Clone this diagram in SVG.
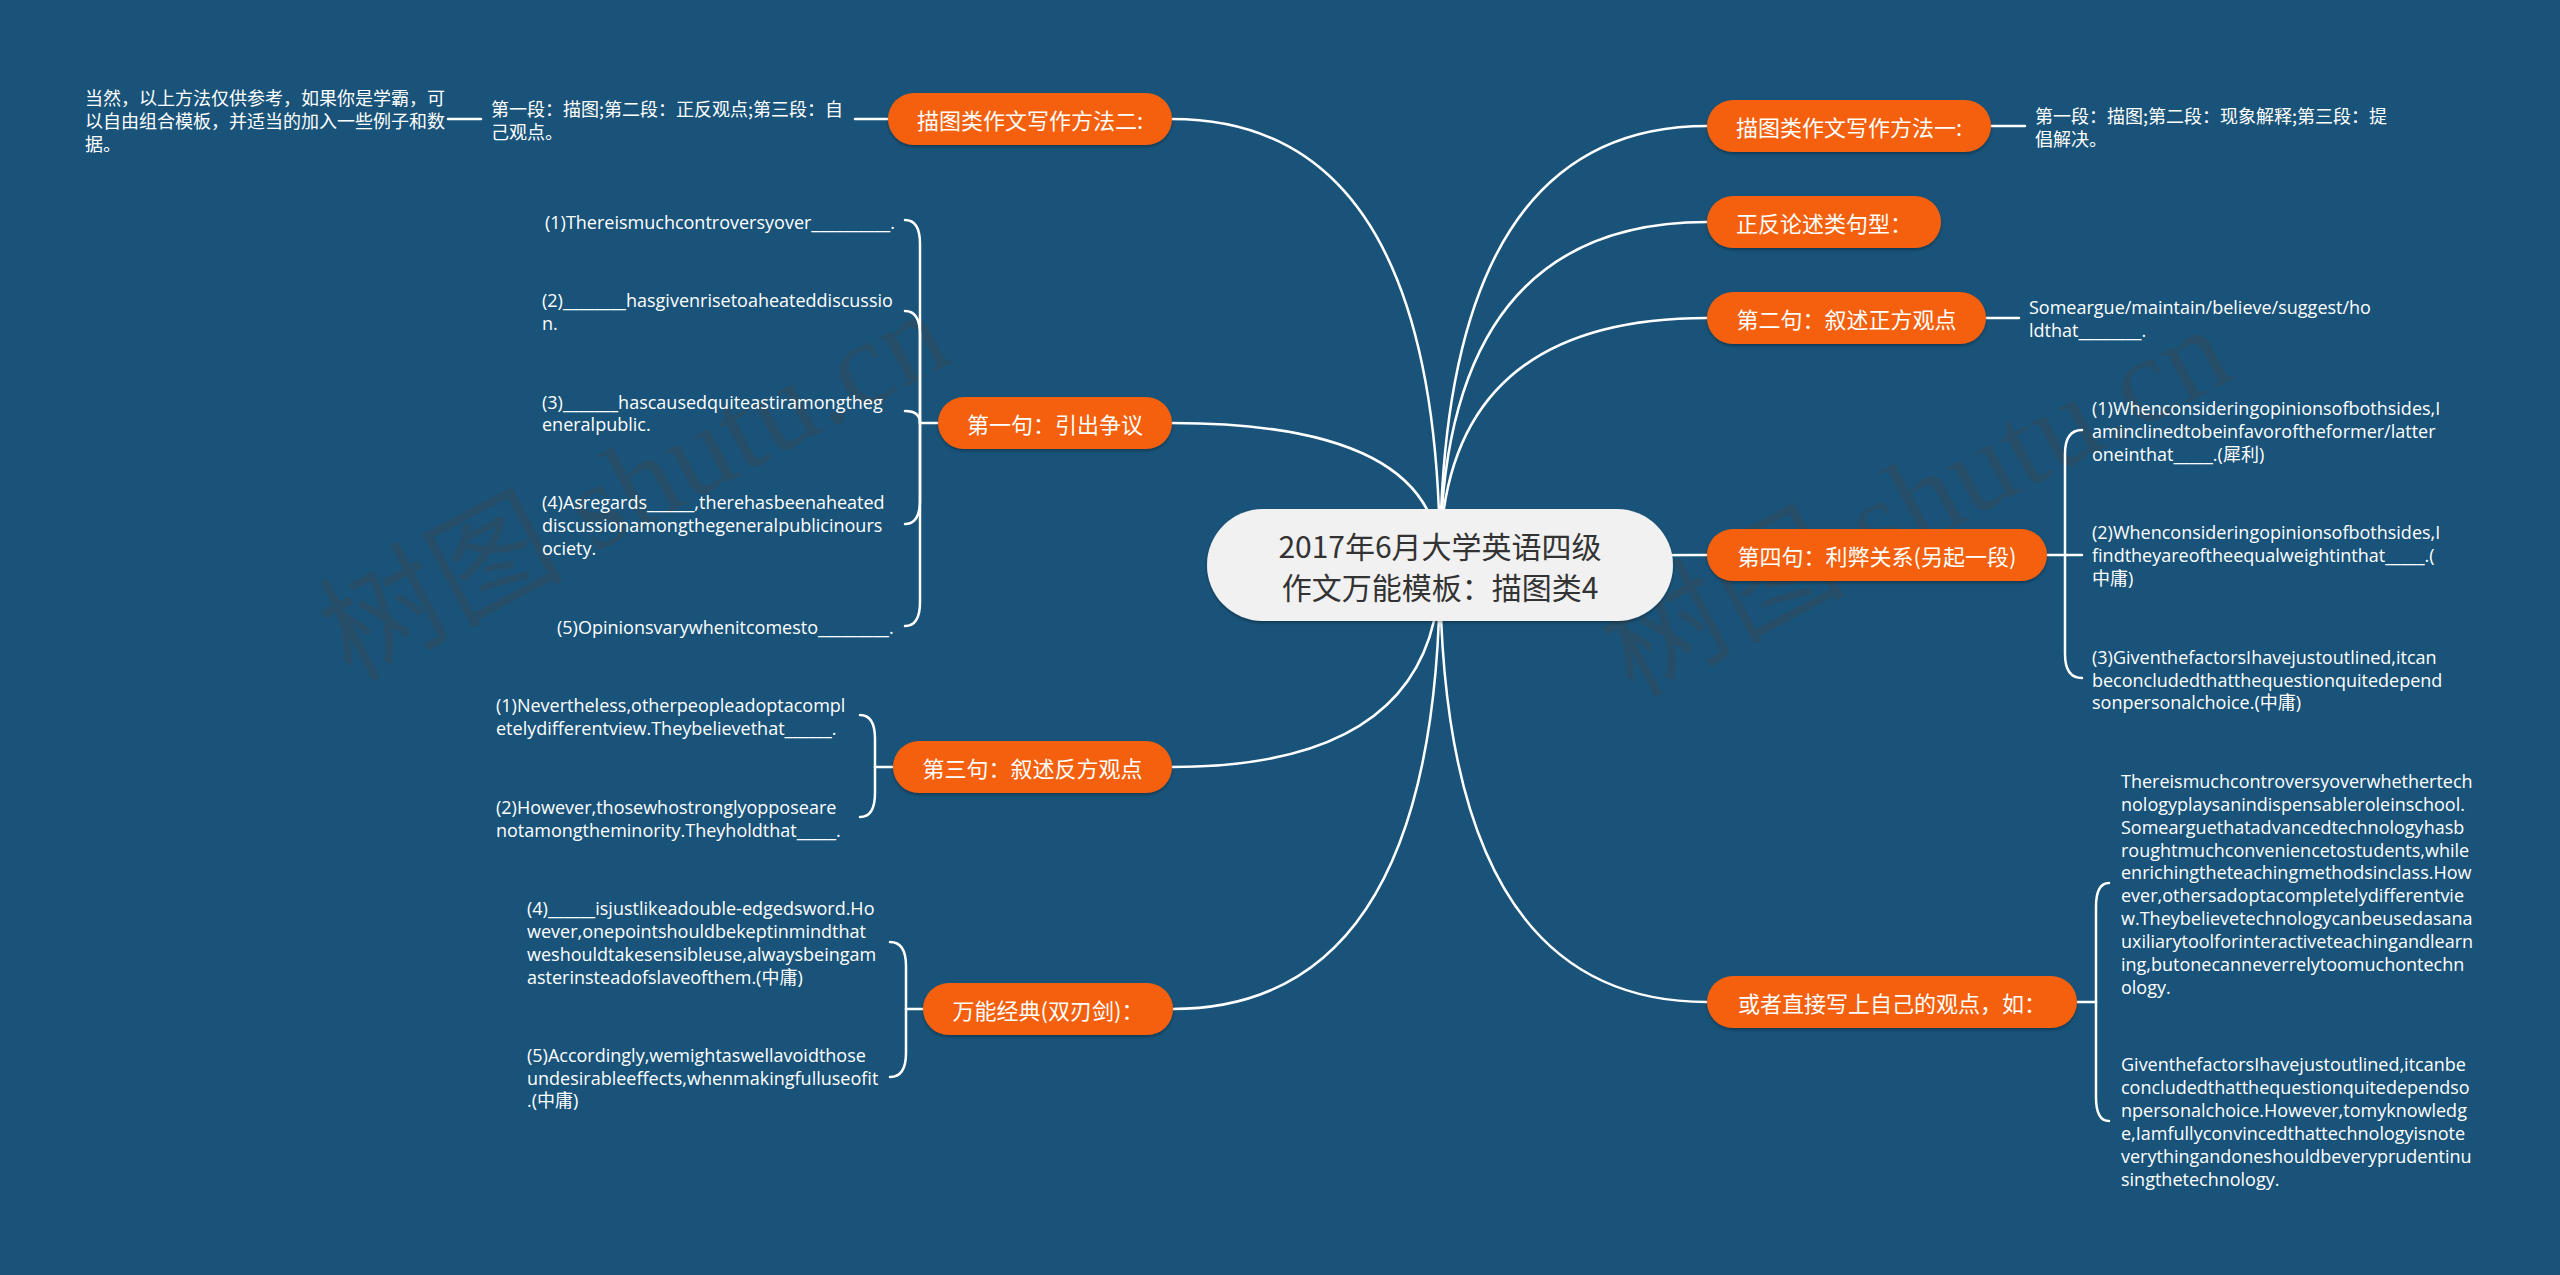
<svg xmlns="http://www.w3.org/2000/svg" width="2560" height="1275" viewBox="0 0 2560 1275">
<defs>
<filter id="sh" x="-10%" y="-20%" width="120%" height="150%">
<feDropShadow dx="0" dy="2" stdDeviation="1.5" flood-color="#000" flood-opacity="0.3"/>
</filter>
</defs>
<style>
.bg{fill:#195379}
.wm{font-family:"Liberation Serif","Noto Sans CJK SC",serif;font-size:122px;fill:#444;opacity:.3}
.main rect{fill:#F1F1F1}
.main text{font-family:"Noto Sans CJK SC",sans-serif;font-size:30px;fill:#333;text-anchor:middle;dominant-baseline:central}
.topic rect{fill:#F4600C;filter:url(#sh)}
.topic text{font-family:"Noto Sans CJK SC",sans-serif;font-size:22px;fill:#fff;text-anchor:middle;dominant-baseline:central}
.leaf text{font-family:"Open Sans","Noto Sans CJK SC",sans-serif;font-size:18px;fill:#fff;dominant-baseline:central}
.leaf text.cn{font-family:"Noto Sans CJK SC",sans-serif;font-size:18px}
.conn path{fill:none;stroke:#fff;stroke-width:2.5;stroke-linecap:round}
</style>
<rect class="bg" x="0" y="0" width="2560" height="1275"/>
<text class="wm" transform="translate(351,682) rotate(-28)">树图 shutu.cn</text>
<text class="wm" transform="translate(1633,698) rotate(-28)">树图 shutu.cn</text>

<g id="connectors" class="conn">
<path d="M1440,565 Q1440,119 1172,119"/>
<path d="M1440,565 Q1440,423 1172,423"/>
<path d="M1440,565 Q1440,767 1172,767"/>
<path d="M1440,565 Q1440,1009 1172,1009"/>
<path d="M1440,565 Q1440,126 1707,126"/>
<path d="M1440,565 Q1440,222 1707,222"/>
<path d="M1440,565 Q1440,318 1707,318"/>
<path d="M1440,565 Q1440,555 1707,555"/>
<path d="M1440,565 Q1440,1002 1707,1002"/>
<path d="M888,119 H855"/>
<path d="M481,119 H448"/>
<path d="M1991,126 H2025"/>
<path d="M1986,318 H2019"/>
<path d="M938,423 H920"/>
<path d="M920,423 V244 Q920,220 905,220"/>
<path d="M920,423 V335 Q920,311 905,311"/>
<path d="M920,423 Q920,411 905,411"/>
<path d="M920,423 V500 Q920,524 905,524"/>
<path d="M920,423 V602 Q920,626 905,626"/>
<path d="M893,767 H875"/>
<path d="M875,767 V739 Q875,715 860,715"/>
<path d="M875,767 V793 Q875,817 860,817"/>
<path d="M923,1009 H906"/>
<path d="M906,1009 V966 Q906,942 890,942"/>
<path d="M906,1009 V1053 Q906,1077 890,1077"/>
<path d="M2047,555 H2082"/>
<path d="M2065,555 V454 Q2065,430 2082,430"/>
<path d="M2065,555 V654 Q2065,678 2082,678"/>
<path d="M2077,1002 H2096"/>
<path d="M2096,1002 V907 Q2096,883 2109,883"/>
<path d="M2096,1002 V1097 Q2096,1121 2109,1121"/>
</g>

<g id="center" class="main">
<rect x="1207" y="509" width="466" height="112" rx="56" filter="url(#sh)"/>
<text x="1440" y="545">2017年6月大学英语四级</text>
<text x="1440" y="586">作文万能模板：描图类4</text>
</g>

<g id="n-l1" class="topic"><rect x="888" y="93" width="284" height="52" rx="26"/><text x="1030" y="119">描图类作文写作方法二:</text></g>
<g id="n-l2" class="topic"><rect x="938" y="397" width="234" height="52" rx="26"/><text x="1055" y="423">第一句：引出争议</text></g>
<g id="n-l3" class="topic"><rect x="893" y="741" width="279" height="52" rx="26"/><text x="1032.5" y="767">第三句：叙述反方观点</text></g>
<g id="n-l4" class="topic"><rect x="923" y="983" width="250" height="52" rx="26"/><text x="1048" y="1009">万能经典(双刃剑)：</text></g>
<g id="n-r1" class="topic"><rect x="1707" y="100" width="284" height="52" rx="26"/><text x="1849" y="126">描图类作文写作方法一:</text></g>
<g id="n-r2" class="topic"><rect x="1707" y="196" width="234" height="52" rx="26"/><text x="1824" y="222">正反论述类句型：</text></g>
<g id="n-r3" class="topic"><rect x="1707" y="292" width="279" height="52" rx="26"/><text x="1846.5" y="318">第二句：叙述正方观点</text></g>
<g id="n-r4" class="topic"><rect x="1707" y="529" width="340" height="52" rx="26"/><text x="1877" y="555">第四句：利弊关系(另起一段)</text></g>
<g id="n-r5" class="topic"><rect x="1707" y="976" width="370" height="52" rx="26"/><text x="1892" y="1002">或者直接写上自己的观点，如：</text></g>

<g id="leaf-l1a" class="leaf">
<text class="cn" x="491" y="108">第一段：描图;第二段：正反观点;第三段：自</text>
<text class="cn" x="491" y="131">己观点。</text>
</g>
<g id="leaf-l1b" class="leaf">
<text class="cn" x="85" y="97">当然，以上方法仅供参考，如果你是学霸，可</text>
<text class="cn" x="85" y="120">以自由组合模板，并适当的加入一些例子和数</text>
<text class="cn" x="85" y="143">据。</text>
</g>

<g id="leaf-l2-1" class="leaf"><text x="545" y="222">(1)Thereismuchcontroversyover__________.</text></g>
<g id="leaf-l2-2" class="leaf"><text x="542" y="300">(2)________hasgivenrisetoaheateddiscussio</text><text x="542" y="323">n.</text></g>
<g id="leaf-l2-3" class="leaf"><text x="542" y="402">(3)_______hascausedquiteastiramongtheg</text><text x="542" y="424">eneralpublic.</text></g>
<g id="leaf-l2-4" class="leaf"><text x="542" y="502">(4)Asregards______,therehasbeenaheated</text><text x="542" y="525">discussionamongthegeneralpublicinours</text><text x="542" y="548">ociety.</text></g>
<g id="leaf-l2-5" class="leaf"><text x="557" y="627">(5)Opinionsvarywhenitcomesto_________.</text></g>

<g id="leaf-l3-1" class="leaf"><text x="496" y="705">(1)Nevertheless,otherpeopleadoptacompl</text><text x="496" y="728">etelydifferentview.Theybelievethat______.</text></g>
<g id="leaf-l3-2" class="leaf"><text x="496" y="807">(2)However,thosewhostronglyopposeare</text><text x="496" y="830">notamongtheminority.Theyholdthat_____.</text></g>

<g id="leaf-l4-4" class="leaf"><text x="527" y="908">(4)______isjustlikeadouble-edgedsword.Ho</text><text x="527" y="931">wever,onepointshouldbekeptinmindthat</text><text x="527" y="954">weshouldtakesensibleuse,alwaysbeingam</text><text x="527" y="977">asterinsteadofslaveofthem.(中庸)</text></g>
<g id="leaf-l4-5" class="leaf"><text x="527" y="1055">(5)Accordingly,wemightaswellavoidthose</text><text x="527" y="1078">undesirableeffects,whenmakingfulluseofit</text><text x="527" y="1100">.(中庸)</text></g>

<g id="leaf-r1" class="leaf">
<text class="cn" x="2035" y="115">第一段：描图;第二段：现象解释;第三段：提</text>
<text class="cn" x="2035" y="138">倡解决。</text>
</g>
<g id="leaf-r3" class="leaf"><text x="2029" y="307">Someargue/maintain/believe/suggest/ho</text><text x="2029" y="330">ldthat________.</text></g>

<g id="leaf-r4-1" class="leaf"><text x="2092" y="408">(1)Whenconsideringopinionsofbothsides,I</text><text x="2092" y="431">aminclinedtobeinfavoroftheformer/latter</text><text x="2092" y="454">oneinthat_____.(犀利)</text></g>
<g id="leaf-r4-2" class="leaf"><text x="2092" y="532">(2)Whenconsideringopinionsofbothsides,I</text><text x="2092" y="555">findtheyareoftheequalweightinthat_____.(</text><text x="2092" y="578">中庸)</text></g>
<g id="leaf-r4-3" class="leaf"><text x="2092" y="657">(3)GiventhefactorsIhavejustoutlined,itcan</text><text x="2092" y="680">beconcludedthatthequestionquitedepend</text><text x="2092" y="702">sonpersonalchoice.(中庸)</text></g>

<g id="leaf-r5-1" class="leaf">
<text x="2121" y="781">Thereismuchcontroversyoverwhethertech</text>
<text x="2121" y="804">nologyplaysanindispensableroleinschool.</text>
<text x="2121" y="827">Somearguethatadvancedtechnologyhasb</text>
<text x="2121" y="850">roughtmuchconveniencetostudents,while</text>
<text x="2121" y="872">enrichingtheteachingmethodsinclass.How</text>
<text x="2121" y="895">ever,othersadoptacompletelydifferentvie</text>
<text x="2121" y="918">w.Theybelievetechnologycanbeusedasana</text>
<text x="2121" y="941">uxiliarytoolforinteractiveteachingandlearn</text>
<text x="2121" y="964">ing,butonecanneverrelytoomuchontechn</text>
<text x="2121" y="987">ology.</text>
</g>
<g id="leaf-r5-2" class="leaf">
<text x="2121" y="1064">GiventhefactorsIhavejustoutlined,itcanbe</text>
<text x="2121" y="1087">concludedthatthequestionquitedependso</text>
<text x="2121" y="1110">npersonalchoice.However,tomyknowledg</text>
<text x="2121" y="1133">e,Iamfullyconvincedthattechnologyisnote</text>
<text x="2121" y="1156">verythingandoneshouldbeveryprudentinu</text>
<text x="2121" y="1179">singthetechnology.</text>
</g>
</svg>
